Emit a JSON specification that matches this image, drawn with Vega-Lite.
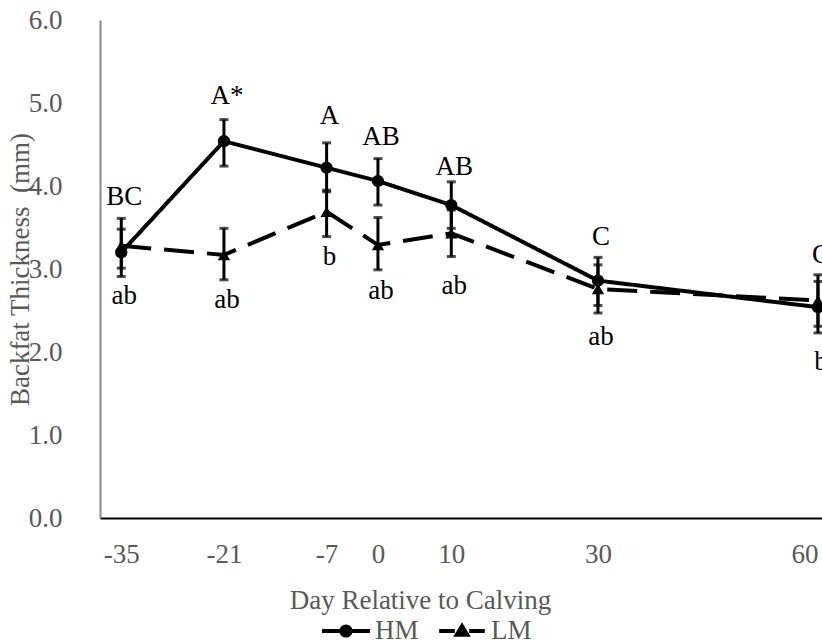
{
  "$schema": "https://vega.github.io/schema/vega-lite/v6.json",
  "autosize": {"type": "none"},
  "padding": {"left": 100, "top": 20, "right": 0, "bottom": 126},
  "width": 722,
  "height": 498,
  "background": "white",
  "config": {
    "view": {"stroke": null},
    "font": "Liberation Serif",
    "text": {"font": "Liberation Serif"}
  },
  "datasets": {
    "pts": [
      {"day": -35, "group": "HM", "mean": 3.20, "lo": 2.91, "hi": 3.48},
      {"day": -21, "group": "HM", "mean": 4.54, "lo": 4.24, "hi": 4.80},
      {"day": -7, "group": "HM", "mean": 4.22, "lo": 3.93, "hi": 4.52},
      {"day": 0, "group": "HM", "mean": 4.06, "lo": 3.77, "hi": 4.33},
      {"day": 10, "group": "HM", "mean": 3.77, "lo": 3.49, "hi": 4.05},
      {"day": 30, "group": "HM", "mean": 2.86, "lo": 2.56, "hi": 3.14},
      {"day": 60, "group": "HM", "mean": 2.54, "lo": 2.23, "hi": 2.85},
      {"day": -35, "group": "LM", "mean": 3.28, "lo": 3.01, "hi": 3.61},
      {"day": -21, "group": "LM", "mean": 3.17, "lo": 2.87, "hi": 3.49},
      {"day": -7, "group": "LM", "mean": 3.69, "lo": 3.39, "hi": 3.95},
      {"day": 0, "group": "LM", "mean": 3.29, "lo": 2.99, "hi": 3.62},
      {"day": 10, "group": "LM", "mean": 3.43, "lo": 3.15, "hi": 3.71},
      {"day": 30, "group": "LM", "mean": 2.76, "lo": 2.47, "hi": 3.05},
      {"day": 60, "group": "LM", "mean": 2.62, "lo": 2.31, "hi": 2.93}
    ],
    "labels": [
      {"day": -35, "label": "BC", "y": 3.87},
      {"day": -21, "label": "A*", "y": 5.08},
      {"day": -7, "label": "A", "y": 4.84},
      {"day": 0, "label": "AB", "y": 4.59},
      {"day": 10, "label": "AB", "y": 4.23},
      {"day": 30, "label": "C", "y": 3.38},
      {"day": 60, "label": "C", "y": 3.17},
      {"day": -35, "label": "ab", "y": 2.67},
      {"day": -21, "label": "ab", "y": 2.63},
      {"day": -7, "label": "b", "y": 3.14},
      {"day": 0, "label": "ab", "y": 2.73},
      {"day": 10, "label": "ab", "y": 2.79},
      {"day": 30, "label": "ab", "y": 2.18},
      {"day": 60, "label": "b", "y": 1.88}
    ]
  },
  "layer": [
    {
      "data": {"name": "pts"},
      "mark": {"type": "line", "color": "black", "strokeWidth": 4},
      "encoding": {
        "x": {
          "field": "day", "type": "quantitative",
          "scale": {"domain": [-37.9, 60.55], "nice": false, "zero": false},
          "axis": {
            "values": [-35, -21, -7, 0, 10, 30, 60],
            "labelExpr": "datum.value < 0 ? '-' + abs(datum.value) : '' + datum.value",
            "grid": false, "ticks": false, "tickSize": 0,
            "labelFlush": 10, "labelFlushOffset": 0,
            "labelFont": "Liberation Serif", "labelFontSize": 27, "labelColor": "#595959",
            "labelPadding": 23,
            "domainColor": "#000000", "domainWidth": 2,
            "title": "Day Relative to Calving",
            "titleFont": "Liberation Serif", "titleFontSize": 27, "titleFontWeight": "normal", "titleColor": "#595959",
            "titleX": 320, "titleY": 82, "titleAlign": "center", "titleBaseline": "middle"
          }
        },
        "y": {
          "field": "mean", "type": "quantitative",
          "title": "Backfat Thickness\u00a0 (mm)",
          "scale": {"domain": [0, 6], "nice": false},
          "axis": {
            "values": [0, 1, 2, 3, 4, 5, 6], "format": ".1f",
            "grid": false, "ticks": false, "tickSize": 0,
            "labelFont": "Liberation Serif", "labelFontSize": 27, "labelColor": "#595959",
            "labelPadding": 38,
            "domainColor": "#8a8a8a", "domainWidth": 2,
            "title": "Backfat Thickness\u00a0 (mm)",
            "titleFont": "Liberation Serif", "titleFontSize": 27, "titleFontWeight": "normal", "titleColor": "#595959",
            "titleX": -80, "titleY": 249, "titleAngle": -90, "titleAlign": "center", "titleBaseline": "middle"
          }
        },
        "strokeDash": {
          "field": "group", "type": "nominal",
          "scale": {"domain": ["HM", "LM"], "range": [[1, 0], [30, 13]]},
          "legend": null
        }
      }
    },
    {
      "data": {"name": "pts"},
      "mark": {"type": "errorbar", "ticks": {"size": 9, "thickness": 3, "color": "black"}, "rule": {"strokeWidth": 3, "color": "black"}, "color": "black"},
      "encoding": {
        "x": {"field": "day", "type": "quantitative"},
        "y": {"field": "lo", "type": "quantitative", "title": "Backfat Thickness\u00a0 (mm)"},
        "y2": {"field": "hi"}
      }
    },
    {
      "data": {"name": "pts"},
      "mark": {"type": "point", "filled": true, "color": "black", "opacity": 1, "size": 150},
      "encoding": {
        "x": {"field": "day", "type": "quantitative"},
        "y": {"field": "mean", "type": "quantitative", "title": "Backfat Thickness\u00a0 (mm)"},
        "shape": {
          "field": "group", "type": "nominal",
          "scale": {"domain": ["HM", "LM"], "range": ["circle", "triangle-up"]},
          "legend": null
        }
      }
    },
    {
      "data": {"name": "labels"},
      "mark": {"type": "text", "font": "Liberation Serif", "fontSize": 27, "color": "black", "align": "center", "baseline": "middle", "dx": 3},
      "encoding": {
        "x": {"field": "day", "type": "quantitative"},
        "y": {"field": "y", "type": "quantitative", "title": "Backfat Thickness\u00a0 (mm)"},
        "text": {"field": "label"}
      }
    },
    {
      "data": {"name": "pts"},
      "mark": {"type": "point", "filled": false, "color": "black", "strokeWidth": 4, "opacity": 0, "size": 10},
      "encoding": {
        "x": {"field": "day", "type": "quantitative"},
        "y": {"field": "mean", "type": "quantitative", "title": "Backfat Thickness\u00a0 (mm)"},
        "shape": {
          "field": "group", "type": "nominal",
          "scale": {"domain": ["HM", "LM"], "range": [
            "M-1,0L1,0M-0.19,0A0.19,0.19,0,1,1,0.19,0A0.19,0.19,0,1,1,-0.19,0ZM-0.06,0A0.06,0.06,0,1,1,0.06,0A0.06,0.06,0,1,1,-0.06,0Z",
            "M-0.95,0L-0.3,0M0.3,0L0.95,0M-0.22,0.16L0,-0.2L0.22,0.16ZM-0.08,0.07L0,-0.06L0.08,0.07Z"
          ]},
          "legend": {
            "orient": "none", "legendX": 220, "legendY": 585,
            "direction": "horizontal", "title": null,
            "symbolSize": 2304, "symbolStrokeWidth": 4,
            "symbolFillColor": "black", "symbolStrokeColor": "black", "symbolOpacity": 1,
            "labelFont": "Liberation Serif", "labelFontSize": 27, "labelColor": "#595959",
            "labelOffset": 3, "columnPadding": 12, "padding": 0,
            "encode": {"symbols": {"update": {
              "fill": {"value": "black"}, "stroke": {"value": "black"},
              "strokeWidth": {"value": 4}, "opacity": {"value": 1},
              "size": {"value": 2304}
            }}}
          }
        }
      }
    }
  ],
  "resolve": {"scale": {"shape": "independent"}, "legend": {"shape": "independent"}}
}
